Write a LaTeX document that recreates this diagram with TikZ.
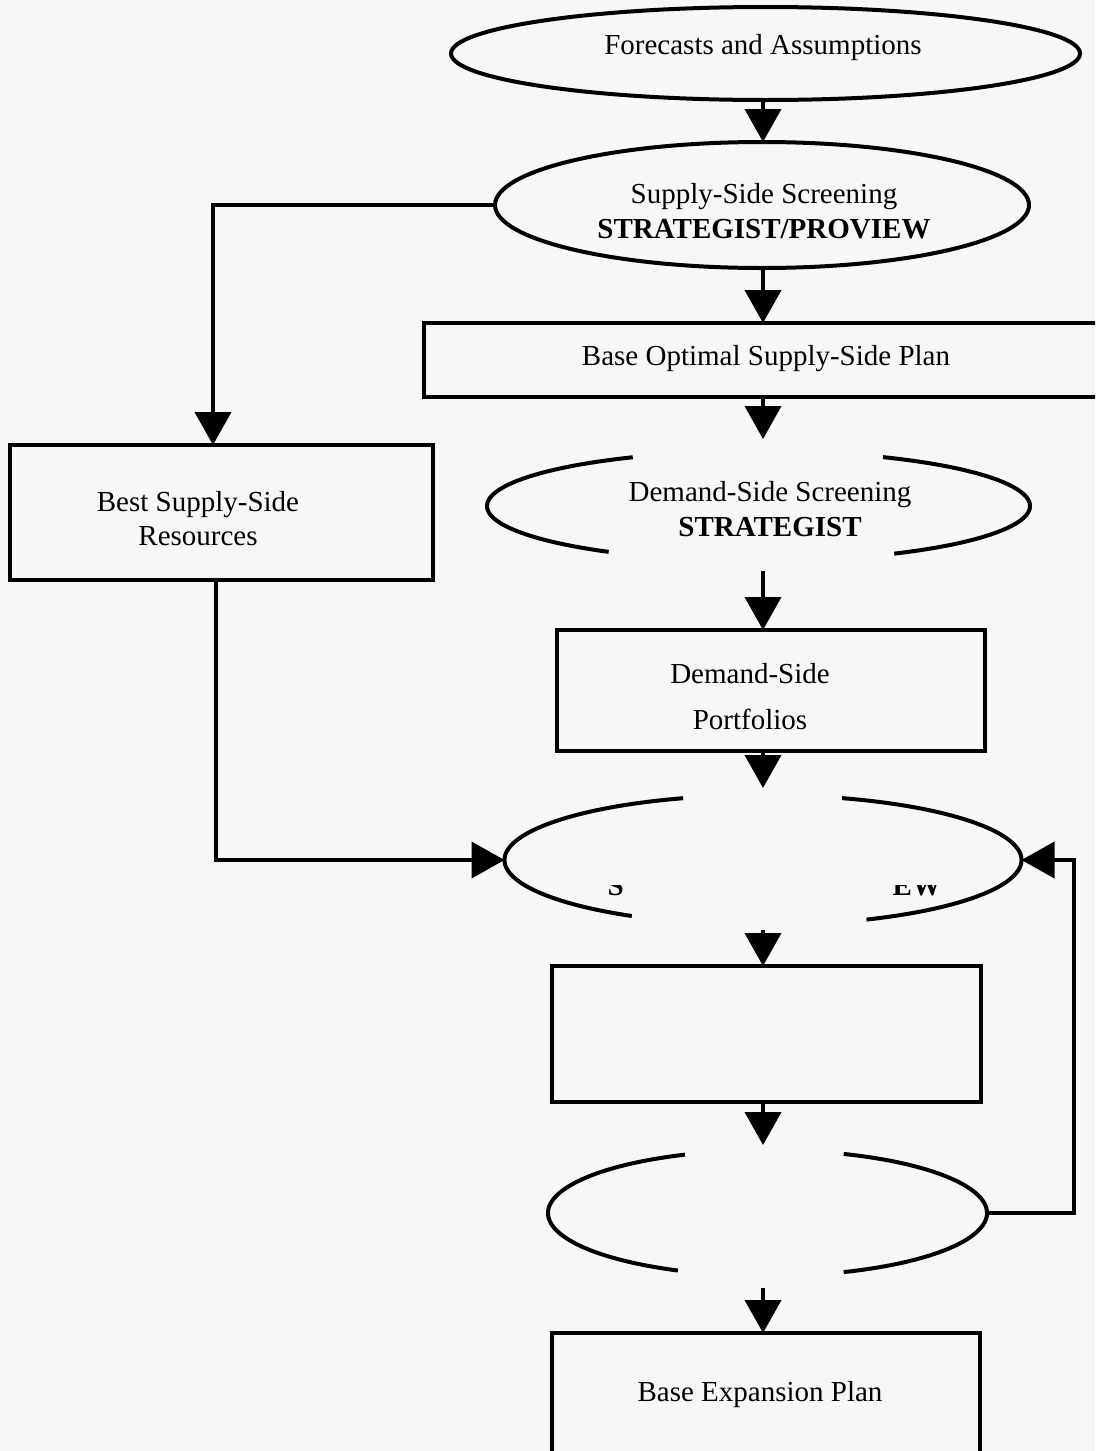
\documentclass[tikz,border=0pt]{standalone}
\usepackage{fontspec}
\setmainfont{Liberation Serif}
\usetikzlibrary{shapes.geometric,arrows.meta}
\definecolor{bg}{HTML}{F7F7F7}
\begin{document}
\begin{tikzpicture}[x=1pt,y=-1pt,
  ell/.style={ellipse, draw, line width=4pt, inner sep=0pt, outer sep=0pt},
  hollow/.style={ellipse, inner sep=0pt, outer sep=0pt},
  box/.style={rectangle, draw, line width=4.5pt, inner sep=0pt, outer sep=0pt},
  txt/.style={inner sep=0pt, outer sep=0pt, align=center, font=\fontsize{29pt}{35pt}\selectfont},
  conn/.style={line width=4pt},
  arr/.style={line width=4pt, -{Triangle[width=36pt,length=33pt]}},
  arcline/.style={line width=4pt}]
\useasboundingbox (0,0) rectangle (1095,1451);
\clip (0,0) rectangle (1095,1451);
\fill[bg] (0,0) rectangle (1095,1451);

% shapes
\node[ell, minimum width=629pt, minimum height=93pt] (fa) at (765.5,53.5) {};
\node[ell, minimum width=534pt, minimum height=126pt] (sss) at (762,205) {};
\node[box, minimum width=686pt, minimum height=74pt] (bos) at (767,360) {};
\node[box, minimum width=423pt, minimum height=135pt] (bssr) at (221.5,512.5) {};
\node[hollow, minimum width=543pt, minimum height=110pt] (dss) at (758.5,506) {};
\node[box, minimum width=428pt, minimum height=121pt] (dsp) at (771,690.5) {};
\node[hollow, minimum width=517pt, minimum height=130pt] (ethree) at (763,860) {};
\node[box, minimum width=429pt, minimum height=136pt] (emp) at (766.5,1034) {};
\node[hollow, minimum width=439pt, minimum height=126pt] (efour) at (767.5,1213) {};
\node[box, minimum width=428pt, minimum height=120pt] (bep) at (766,1393) {};

% broken ellipses
\draw[arcline] ([shift={(62.7:271.5pt and 55pt)}]dss.center) arc[start angle=62.7, end angle=-60, x radius=271.5pt, y radius=55pt];
\draw[arcline] ([shift={(117.6:271.5pt and 55pt)}]dss.center) arc[start angle=117.6, end angle=236.5, x radius=271.5pt, y radius=55pt];
\draw[arcline] ([shift={(72.2:258.5pt and 65pt)}]ethree.center) arc[start angle=72.2, end angle=-66.4, x radius=258.5pt, y radius=65pt];
\draw[arcline] ([shift={(108:258.5pt and 65pt)}]ethree.center) arc[start angle=108, end angle=239.5, x radius=258.5pt, y radius=65pt];
\draw[arcline] ([shift={(69.7:219.5pt and 63pt)}]efour.center) arc[start angle=69.7, end angle=-69.7, x radius=219.5pt, y radius=63pt];
\draw[arcline] ([shift={(112.1:219.5pt and 63pt)}]efour.center) arc[start angle=112.1, end angle=245.9, x radius=219.5pt, y radius=63pt];

% texts
\node[txt] (faT) at (763,48) {Forecasts and Assumptions};
\node[txt] (sssT) at (764,211.5) {Supply-Side Screening\\\textbf{STRATEGIST/PROVIEW}};
\node[txt] (bosT) at (766,359) {Base Optimal Supply-Side Plan};
\node[txt, font=\fontsize{29pt}{33.5pt}\selectfont] (bssrT) at (198,518.5) {Best Supply-Side\\Resources};
\node[txt] (dssT) at (770,509) {Demand-Side Screening\\\textbf{STRATEGIST}};
\node[txt, font=\fontsize{29pt}{46.5pt}\selectfont] (dspT) at (750,696.5) {Demand-Side\\Portfolios};
\node[txt] (bepT) at (760,1395) {Base Expansion Plan};
\begin{scope}
  \clip (600,885) rectangle (630,900);
  \node[txt, anchor=base west, font=\fontsize{29pt}{35pt}\selectfont\bfseries] (fragS) at (607.5,895) {S};
\end{scope}
\begin{scope}
  \clip (890,885) rectangle (950,900);
  \node[txt, anchor=base east, font=\fontsize{29pt}{35pt}\selectfont\bfseries] (fragEW) at (941,895) {EW};
\end{scope}

% connectors
\coordinate (ax) at (763,0);
\coordinate (lxa) at (213,0);
\coordinate (lxb) at (216,0);
\coordinate (rxl) at (1074,0);
\draw[arr] (fa.south -| ax) -- (sss.north -| ax);
\draw[arr] (sss.south -| ax) -- (bos.north -| ax);
\draw[arr, shorten >=12pt] (bos.south -| ax) -- (dss.north -| ax);
\draw[arr, shorten <=10pt] (dss.south -| ax) -- (dsp.north -| ax);
\draw[arr, shorten >=7pt] (dsp.south -| ax) -- (ethree.north -| ax);
\draw[arr, shorten <=5pt] (ethree.south -| ax) -- (emp.north -| ax);
\draw[arr, shorten >=5pt] (emp.south -| ax) -- (efour.north -| ax);
\draw[arr, shorten <=12pt] (efour.south -| ax) -- (bep.north -| ax);
\draw[arr] (sss.west) -- (sss.west -| lxa) -- (bssr.north -| lxa);
\draw[arr] (bssr.south -| lxb) -- (ethree.west -| lxb) -- (ethree.west);
\draw[arr] (efour.east) -- (efour.east -| rxl) -- (ethree.east -| rxl) -- (ethree.east);
\end{tikzpicture}
\end{document}
